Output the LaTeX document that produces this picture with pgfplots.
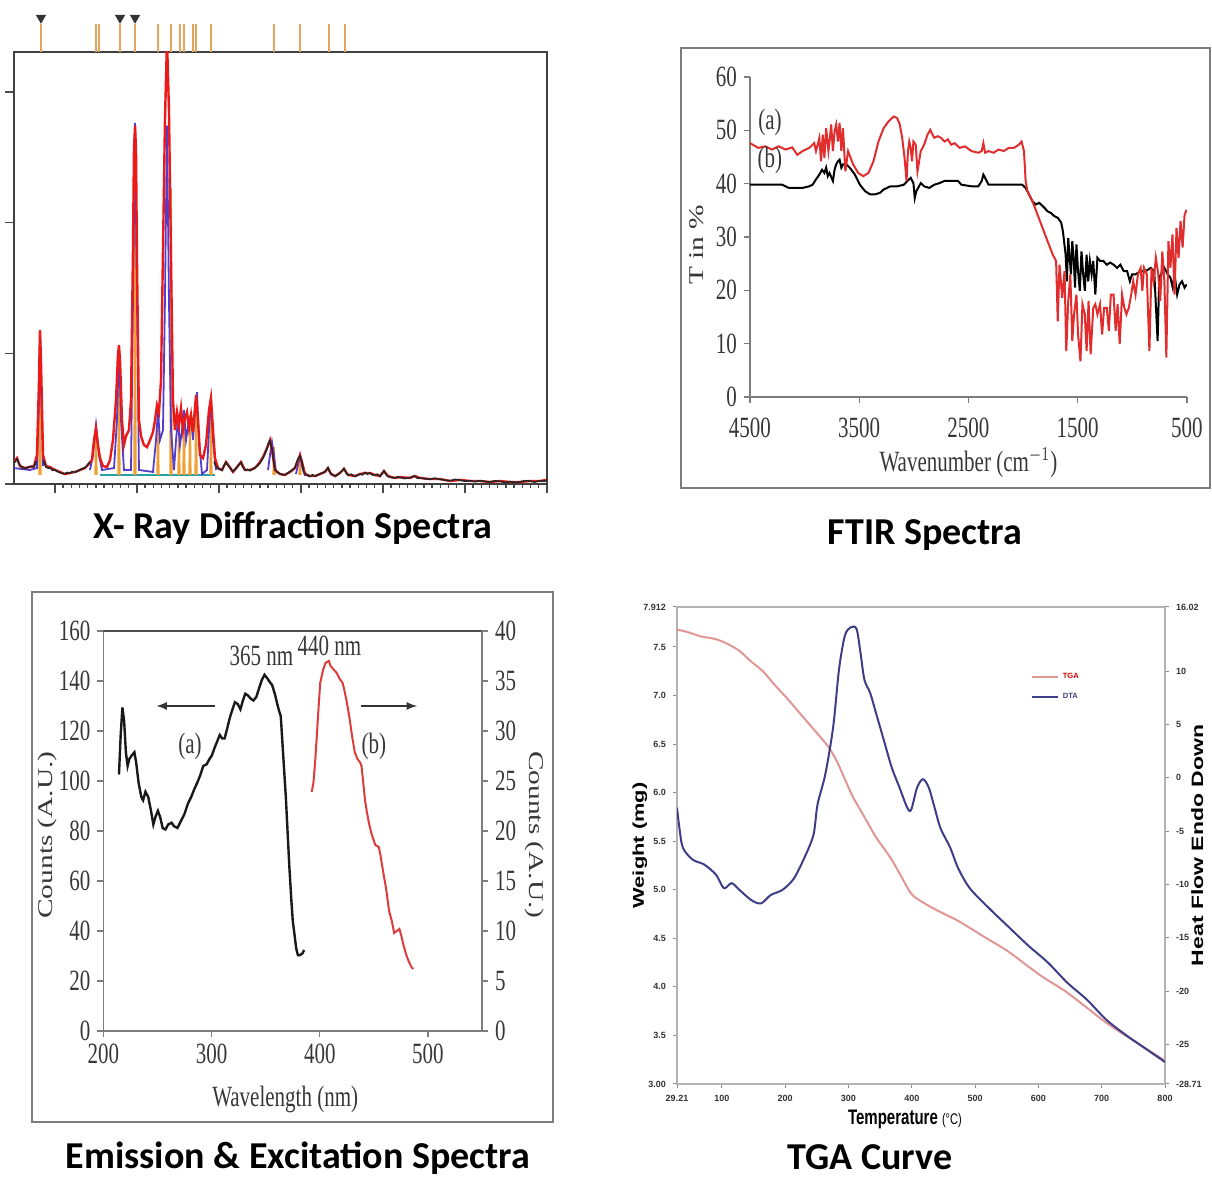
\documentclass[border=0pt]{standalone}
\usepackage{fontspec}
\setmainfont{Liberation Serif}
\newfontfamily\calibri{Carlito}
\newfontfamily\arial{Liberation Sans}
\usepackage{graphicx}
\usepackage{pgfplots}
\pgfplotsset{compat=1.18}

\definecolor{xrdred}{RGB}{235,25,25}
\definecolor{xrdblue}{RGB}{85,60,205}
\definecolor{xrdorange}{RGB}{240,160,50}
\definecolor{xrdstick}{RGB}{228,165,95}
\definecolor{xrdteal}{RGB}{40,160,170}
\definecolor{ftred}{RGB}{225,45,45}
\definecolor{emred}{RGB}{222,60,60}
\definecolor{tgapink}{RGB}{225,150,150}
\definecolor{dtanavy}{RGB}{62,62,135}
\definecolor{framegray}{RGB}{125,125,125}
\definecolor{txtgray}{RGB}{55,55,55}

% the panels are stretched vertically in the reference
\newcommand{\vs}[1]{\scalebox{1}[1.4]{#1}}
\newcommand{\hs}[1]{\scalebox{1.4}[1]{#1}}

\begin{document}
\begin{tikzpicture}
\path[use as bounding box] (0,0) rectangle (606pt,589pt);

% ---------------- XRD ----------------
\begin{axis}[at={(7pt,347pt)}, anchor=south west, scale only axis,
  width=266.5pt, height=216pt,
  xmin=15, xmax=80, ymin=0, ymax=3305,
  xtick={20,30,...,80}, minor x tick num=9, ytick={0,1000,2000,3000},
  xticklabels=\empty, yticklabels=\empty,
  xtick pos=bottom, ytick pos=left, tick align=outside,
  major tick length=4.5pt, minor tick length=2.2pt,
  tick style={black!70, line width=0.7pt},
  axis line style={black!75, line width=1.1pt},
  unbounded coords=jump]
  % baseline of the fit
  \addplot[xrdteal, line width=0.6pt] coordinates {(25.49,69) (39.51,69)};
  % reference sticks
  \addplot[xrdorange, line width=0.9pt] table {
    x y
    18.08 69
    18.17 1176
    18.26 69
    18.3 nan
    24.91 69
    25.00 412
    25.09 69
    25.2 nan
    27.71 69
    27.80 1023
    27.89 69
    28.0 nan
    29.67 69
    29.76 2626
    29.85 69
    29.9 nan
    32.47 69
    32.56 527
    32.65 69
    32.7 nan
    34.06 69
    34.15 2267
    34.24 69
    34.3 nan
    35.03 69
    35.12 504
    35.21 69
    35.3 nan
    35.64 69
    35.73 565
    35.82 69
    35.9 nan
    36.37 69
    36.46 527
    36.55 69
    36.6 nan
    37.11 69
    37.20 603
    37.29 69
    37.4 nan
    38.93 69
    39.02 626
    39.11 69
    39.2 nan
    46.62 69
    46.71 282
    46.80 69
    46.9 nan
    49.79 69
    49.88 198
    49.97 69
  };
  % calculated profile
  \addplot[xrdblue, line width=0.9pt] table {
    x y
    15.00 122
    16.95 107
    17.80 122
    18.05 641
    18.17 1176
    18.29 794
    18.54 137
    18.6 nan
    24.27 107
    24.63 221
    25.00 450
    25.37 221
    25.73 107
    27.20 122
    27.56 489
    27.80 1061
    28.05 489
    28.41 107
    29.27 107
    29.51 1405
    29.76 2763
    30.00 1405
    30.24 107
    31.95 92
    32.32 336
    32.56 565
    32.80 336
    33.17 412
    33.41 1405
    33.66 2741
    33.90 1405
    34.15 412
    34.51 107
    34.76 336
    35.00 489
    35.24 298
    35.49 412
    35.73 565
    35.98 336
    36.34 489
    36.59 504
    36.83 336
    37.07 565
    37.32 702
    37.56 336
    37.93 76
    38.54 107
    38.78 412
    39.02 657
    39.27 336
    39.63 107
    39.7 nan
    45.98 107
    46.22 221
    46.46 321
    46.71 221
    46.95 92
    47.0 nan
    49.39 76
    49.63 145
    49.88 221
    50.12 137
    50.49 61
  };
  % observed pattern
  \addplot[xrdred, line width=1.2pt] table {
    x y
    15.00 168
    15.37 198
    15.73 137
    16.34 122
    16.95 130
    17.44 137
    17.80 221
    18.05 794
    18.17 1176
    18.29 947
    18.54 221
    18.90 137
    19.39 130
    20.00 107
    20.61 92
    21.22 76
    21.83 84
    22.44 92
    23.05 107
    23.66 122
    24.02 145
    24.51 183
    24.76 336
    25.00 427
    25.24 298
    25.49 198
    25.85 137
    26.34 130
    26.71 183
    27.07 336
    27.44 641
    27.68 985
    27.80 1061
    27.93 947
    28.17 489
    28.41 298
    28.66 366
    29.02 412
    29.27 641
    29.51 1786
    29.63 2550
    29.76 2741
    29.88 2550
    30.00 1710
    30.24 489
    30.49 366
    30.85 298
    31.22 282
    31.59 336
    31.95 397
    32.20 489
    32.44 603
    32.68 550
    32.93 794
    33.17 1786
    33.41 2779
    33.66 3400
    33.90 2855
    34.15 1710
    34.39 641
    34.63 412
    34.88 550
    35.12 450
    35.37 580
    35.61 412
    35.85 504
    36.10 550
    36.34 427
    36.59 527
    36.83 397
    37.20 679
    37.44 489
    37.68 221
    38.05 198
    38.41 298
    38.78 565
    39.02 657
    39.27 412
    39.51 198
    39.88 122
    40.37 107
    40.85 168
    41.22 137
    41.71 92
    42.20 130
    42.68 168
    43.17 107
    43.78 107
    44.39 122
    45.00 168
    45.49 221
    45.85 275
    46.22 336
    46.46 260
    46.83 107
    47.44 76
    48.05 69
    48.66 92
    49.27 122
    49.63 183
    49.88 221
    50.12 168
    50.49 76
    51.10 61
    51.71 61
    52.32 76
    52.93 92
    53.29 122
    53.66 76
    54.15 61
    54.76 84
    55.24 115
    55.73 69
    56.59 61
    57.20 76
    57.80 84
    58.41 84
    59.02 69
    59.63 61
    60.12 99
    60.61 61
    61.46 46
    62.07 53
    63.29 46
    63.90 61
    64.51 46
    65.73 38
    66.95 38
    68.17 23
    69.39 31
    70.61 23
    71.83 23
    73.05 15
    74.27 23
    75.49 15
    76.71 15
    77.93 23
    79.15 23
    80.00 31
  };
  % noisy background trace
  \addplot[black!85, line width=0.8pt] table {
    x y
    15.00 160
    15.37 190
    15.73 140
    16.10 125
    16.34 118
    16.70 128
    16.95 135
    17.44 130
    17.70 175
    17.85 nan
    18.60 180
    18.90 130
    19.20 120
    19.39 125
    19.70 105
    20.00 110
    20.30 95
    20.61 88
    20.90 80
    21.22 78
    21.50 88
    21.83 82
    22.10 95
    22.44 90
    22.80 100
    23.05 110
    23.40 118
    23.66 125
    24.02 150
    24.30 170
    24.45 nan
    39.40 170
    39.60 140
    39.88 118
    40.10 112
    40.37 105
    40.60 140
    40.85 165
    41.00 150
    41.22 135
    41.50 110
    41.71 95
    42.00 115
    42.20 128
    42.45 150
    42.68 165
    42.90 130
    43.17 105
    43.50 112
    43.78 102
    44.10 115
    44.39 125
    44.70 140
    45.00 160
    45.30 190
    45.49 215
    45.85 270
    46.10 320
    46.22 330
    46.46 270
    46.70 160
    46.83 110
    47.10 90
    47.44 78
    47.80 70
    48.05 72
    48.40 85
    48.66 95
    49.00 110
    49.27 125
    49.50 170
    49.63 190
    49.88 215
    50.12 165
    50.30 100
    50.49 78
    50.80 65
    51.10 58
    51.40 70
    51.71 60
    52.00 68
    52.32 78
    52.60 85
    52.93 95
    53.29 125
    53.50 95
    53.66 78
    53.90 70
    54.15 58
    54.50 72
    54.76 88
    55.00 100
    55.24 118
    55.50 85
    55.73 68
    56.10 75
    56.59 58
    56.90 66
    57.20 78
    57.50 70
    57.80 88
    58.10 75
    58.41 85
    58.70 70
    59.02 66
    59.30 75
    59.63 58
    59.90 80
    60.12 100
    60.40 70
    60.61 58
    61.00 50
    61.46 46
    61.80 55
    62.07 50
    62.60 42
    63.29 48
    63.60 58
    63.90 60
    64.20 44
    64.51 48
    65.10 40
    65.73 36
    66.30 44
    66.95 36
    67.50 30
    68.17 25
    68.80 35
    69.39 30
    70.00 22
    70.61 25
    71.20 18
    71.83 25
    72.40 20
    73.05 15
    73.60 24
    74.27 20
    74.90 12
    75.49 18
    76.10 12
    76.71 16
    77.30 25
    77.93 22
    78.50 15
    79.15 25
    79.60 20
    80.00 30
  };
\end{axis}

% reflection markers above the XRD pattern
\begin{axis}[at={(7pt,563pt)}, anchor=south west, scale only axis,
  width=266.5pt, height=15pt, xmin=15, xmax=80, ymin=0, ymax=1.07,
  hide axis, clip=false]
  \addplot[ycomb, xrdstick, line width=1pt] coordinates {
    (18.29,1) (25.00,1) (25.37,1) (27.93,1) (29.76,1) (32.56,1)
    (34.15,1) (35.24,1) (35.73,1) (36.83,1) (37.20,1) (39.02,1)
    (46.71,1) (49.88,1) (53.41,1) (55.37,1)};
  \addplot[only marks, mark=triangle*, mark size=2.6pt,
    mark options={rotate=180, black!80}] coordinates {
    (18.29,1.22) (27.93,1.22) (29.76,1.22)};
\end{axis}

% ---------------- FTIR ----------------
\begin{axis}[at={(375pt,390.5pt)}, anchor=south west, scale only axis,
  width=218.5pt, height=160pt,
  xmin=500, xmax=4500, x dir=reverse, ymin=0, ymax=60,
  xtick={500,1500,2500,3500,4500}, ytick={0,10,...,60},
  axis x line*=bottom, axis y line*=left,
  axis line style={framegray, line width=0.8pt, -},
  tick align=outside, major tick length=3pt,
  tick style={framegray, line width=0.6pt},
  xticklabel={\vs{\pgfmathprintnumber[assume math mode=true,1000 sep={}]{\tick}}},
  yticklabel={\vs{\pgfmathprintnumber[assume math mode=true]{\tick}}},
  tick label style={font=\fontsize{10.5}{12}\selectfont, text=txtgray},
  xticklabel style={yshift=-4pt},
  xlabel={\vs{Wavenumber (cm$^{-1}$)}},
  ylabel={\hs{T in \%}},
  xlabel style={at={(axis description cs:0.5,-0.206)}, anchor=center,
    font=\fontsize{10.5}{12}\selectfont, text=txtgray},
  ylabel style={at={(axis description cs:-0.121,0.475)}, anchor=center,
    font=\fontsize{10.5}{12}\selectfont, text=txtgray}]
  \addplot[black, line width=1pt] table {
    x y
    4500 39.8
    4206 39.8
    4175 39.5
    4144 39.2
    4020 39.2
    3958 39.5
    3927 39.8
    3896 40.8
    3865 41.7
    3841 42.6
    3819 42.0
    3803 43.0
    3788 41.4
    3772 42.0
    3741 40.5
    3726 42.6
    3711 43.6
    3695 44.2
    3680 44.5
    3664 43.0
    3649 43.6
    3618 43.6
    3587 43.0
    3540 41.7
    3494 39.8
    3447 38.6
    3401 38.0
    3354 38.0
    3308 38.3
    3277 38.9
    3215 39.5
    3153 39.5
    3091 39.8
    3060 40.5
    3029 41.1
    3004 40.1
    2992 37.3
    2977 38.6
    2961 39.2
    2937 40.1
    2906 39.5
    2859 39.2
    2813 39.8
    2766 40.1
    2720 40.5
    2658 40.5
    2596 40.5
    2565 39.8
    2472 39.5
    2410 39.5
    2379 40.5
    2364 41.7
    2348 41.1
    2317 39.8
    2008 39.8
    1977 39.2
    1946 38.0
    1915 36.7
    1884 36.1
    1853 36.4
    1806 35.5
    1776 34.8
    1745 34.5
    1714 33.9
    1683 33.6
    1652 32.7
    1636 31.1
    1611 26.7
    1599 21.7
    1587 29.8
    1574 26.1
    1562 23.0
    1550 29.2
    1537 26.1
    1525 20.5
    1512 28.6
    1497 23.6
    1481 19.9
    1466 27.3
    1450 23.0
    1435 19.9
    1419 26.7
    1404 21.7
    1389 25.5
    1373 23.0
    1358 25.5
    1339 19.2
    1320 26.1
    1296 25.5
    1265 25.5
    1234 24.8
    1203 25.2
    1172 24.8
    1141 24.2
    1110 24.8
    1079 23.6
    1048 23.6
    1023 21.7
    1002 23.0
    971 23.0
    924 23.6
    878 23.6
    831 24.2
    800 23.6
    769 10.5
    754 22.4
    738 23.0
    707 24.2
    676 23.0
    652 22.4
    630 20.5
    614 23.0
    590 19.2
    568 21.1
    546 21.7
    522 20.5
    503 21.1
  };
  \addplot[ftred, line width=1pt] table {
    x y
    4500 47.6
    4423 46.7
    4361 47.0
    4299 46.4
    4237 47.0
    4175 46.4
    4113 46.8
    4067 45.4
    4020 46.1
    3958 46.7
    3912 47.6
    3896 46.1
    3865 48.6
    3850 44.2
    3834 49.2
    3819 44.8
    3803 50.4
    3782 46.1
    3772 47.9
    3757 51.1
    3741 46.1
    3726 49.8
    3711 51.1
    3695 47.9
    3680 51.4
    3664 46.1
    3649 50.4
    3627 42.3
    3602 46.1
    3556 43.6
    3509 42.0
    3463 41.4
    3416 42.0
    3370 44.2
    3324 47.9
    3277 50.4
    3231 51.7
    3184 52.6
    3153 52.3
    3129 51.1
    3107 48.6
    3085 44.8
    3067 40.5
    3054 46.1
    3042 47.9
    3029 46.7
    3017 44.2
    3004 47.9
    2983 47.3
    2967 42.3
    2952 44.2
    2937 46.1
    2906 47.3
    2875 49.2
    2850 50.1
    2837 49.5
    2813 48.6
    2782 48.9
    2751 48.6
    2720 47.9
    2689 48.3
    2658 47.3
    2627 47.6
    2580 46.7
    2534 47.0
    2472 46.1
    2410 45.8
    2379 46.1
    2364 47.6
    2348 45.8
    2317 46.1
    2271 45.8
    2224 46.4
    2178 46.1
    2132 46.7
    2085 46.7
    2039 47.3
    2014 47.9
    1992 46.1
    1977 40.5
    1961 38.6
    1915 36.7
    1868 34.2
    1822 31.7
    1776 29.2
    1729 26.7
    1698 25.5
    1683 14.2
    1667 24.8
    1642 18.6
    1621 23.6
    1605 8.6
    1587 18.0
    1568 23.0
    1550 10.5
    1534 15.5
    1512 19.2
    1497 11.7
    1475 6.7
    1457 17.4
    1435 15.5
    1419 8.6
    1401 18.0
    1382 8.0
    1358 16.7
    1339 17.4
    1320 15.5
    1296 17.4
    1277 11.7
    1259 16.7
    1234 16.7
    1215 12.4
    1197 19.2
    1172 19.2
    1153 12.4
    1135 17.4
    1116 9.9
    1094 19.2
    1073 16.7
    1054 15.5
    1033 16.7
    1011 19.2
    992 21.7
    971 19.2
    949 23.0
    924 24.2
    909 19.9
    893 24.2
    868 23.0
    844 8.6
    825 24.2
    806 21.7
    785 26.1
    763 23.0
    745 18.0
    726 27.3
    707 21.7
    689 7.4
    670 29.2
    652 24.2
    633 30.5
    614 19.2
    596 31.7
    577 26.1
    559 33.0
    540 28.0
    522 34.2
    503 35.1
  };
  \node[text=txtgray, font=\fontsize{10.5}{12}\selectfont] at (axis cs:4317,51.4) {\vs{(a)}};
  \node[text=txtgray, font=\fontsize{10.5}{12}\selectfont] at (axis cs:4317,44.4) {\vs{(b)}};
\end{axis}

% ---------------- Emission & excitation ----------------
\begin{axis}[at={(51.75pt,73.5pt)}, anchor=south west, scale only axis,
  width=189.25pt, height=200pt,
  xmin=200, xmax=550, ymin=0, ymax=160,
  xtick={200,300,400,500}, ytick={0,20,...,160},
  xtick pos=bottom, ytick pos=left, tick align=outside,
  major tick length=3pt, tick style={framegray, line width=0.6pt},
  axis line style={framegray, line width=0.8pt},
  xticklabel={\vs{\pgfmathprintnumber[assume math mode=true]{\tick}}},
  yticklabel={\vs{\pgfmathprintnumber[assume math mode=true]{\tick}}},
  tick label style={font=\fontsize{10.5}{12}\selectfont, text=txtgray},
  xlabel={\vs{Wavelength (nm)}}, ylabel={\hs{Counts (A.U.)}},
  xlabel style={at={(axis description cs:0.48,-0.17)}, anchor=center,
    font=\fontsize{10.5}{12}\selectfont, text=txtgray},
  ylabel style={at={(axis description cs:-0.149,0.49)}, anchor=center,
    font=\fontsize{10.5}{12}\selectfont, text=txtgray}]
  \addplot[black!90, line width=1.2pt] table {
    x y
    214.3 102.6
    215.9 118.4
    217.5 129.4
    219.1 123.9
    220.7 111.5
    222.3 106.0
    223.9 108.8
    226.1 110.2
    228.6 111.5
    230.2 107.4
    232.5 99.1
    235.0 93.6
    236.6 92.3
    238.8 95.7
    241.4 93.6
    243.9 88.1
    246.1 82.6
    248.4 86.1
    250.3 88.1
    252.5 85.4
    254.7 81.2
    257.3 80.6
    259.8 82.6
    263.0 83.3
    265.2 81.9
    268.4 81.2
    271.6 84.0
    274.8 86.7
    278.0 90.9
    281.1 93.6
    284.3 97.1
    286.5 99.1
    289.1 101.9
    292.3 106.0
    295.4 106.7
    298.0 108.8
    300.2 110.2
    302.4 112.9
    305.0 115.7
    307.5 118.4
    309.8 117.0
    312.0 117.0
    314.5 121.2
    316.8 125.3
    319.3 128.7
    321.5 131.5
    324.1 130.8
    326.6 128.7
    328.9 132.2
    331.1 134.9
    333.6 134.2
    336.2 132.9
    338.7 132.2
    341.3 133.6
    343.8 137.0
    346.4 140.4
    348.9 142.5
    351.4 141.1
    353.4 139.8
    355.9 138.4
    358.4 134.9
    360.7 130.8
    362.3 128.1
    363.9 126.0
    365.4 115.7
    367.0 104.6
    368.6 93.6
    370.2 79.9
    371.8 66.1
    373.7 52.3
    375.0 44.1
    376.6 38.6
    378.2 33.0
    379.8 30.3
    381.4 30.3
    383.9 31.0
    385.5 32.4
  };
  \node[text=txtgray, font=\fontsize{10.5}{12}\selectfont] at (axis cs:346,150) {\vs{365 nm}};
  \node[text=txtgray, font=\fontsize{10.5}{12}\selectfont] at (axis cs:409,154) {\vs{440 nm}};
  \node[text=txtgray, font=\fontsize{10.5}{12}\selectfont] at (axis cs:280,114) {\vs{(a)}};
  \node[text=txtgray, font=\fontsize{10.5}{12}\selectfont] at (axis cs:450,114) {\vs{(b)}};
  \draw[-latex, line width=0.8pt, black!80] (axis cs:303,130) -- (axis cs:249,130);
  \draw[-latex, line width=0.8pt, black!80] (axis cs:438,130) -- (axis cs:490,130);
  \draw[black!70, line width=1pt] (rel axis cs:0,1) -- (rel axis cs:1,1);
\end{axis}
\begin{axis}[at={(51.75pt,73.5pt)}, anchor=south west, scale only axis,
  width=189.25pt, height=200pt,
  xmin=200, xmax=550, ymin=0, ymax=40,
  axis x line=none, axis y line*=right, ytick={0,5,...,40},
  tick align=outside, major tick length=3pt,
  tick style={framegray, line width=0.6pt},
  axis line style={framegray, line width=0.8pt, -},
  yticklabel={\vs{\pgfmathprintnumber[assume math mode=true]{\tick}}},
  tick label style={font=\fontsize{10.5}{12}\selectfont, text=txtgray},
  ylabel={\hs{Counts (A.U.)}},
  ylabel style={at={(axis description cs:1.14,0.49)}, anchor=center, rotate=180,
    font=\fontsize{10.5}{12}\selectfont, text=txtgray}]
  \addplot[emred, line width=1pt] table {
    x y
    392.5 23.9
    394.1 24.8
    395.7 26.9
    397.3 29.6
    398.9 32.4
    400.4 34.8
    403.0 36.1
    405.2 36.8
    408.4 37.0
    410.0 36.5
    413.2 36.1
    415.7 35.8
    417.9 35.3
    421.1 34.8
    422.7 34.1
    425.3 32.7
    427.5 31.3
    429.7 29.6
    432.3 27.9
    434.8 27.2
    437.0 26.9
    438.6 26.5
    440.2 24.8
    441.8 23.1
    443.4 22.0
    445.6 20.7
    448.2 19.6
    451.4 18.6
    454.5 18.4
    456.1 17.6
    457.7 16.5
    459.3 15.5
    461.5 14.1
    464.1 12.0
    466.6 11.0
    468.8 9.8
    471.1 10.0
    473.6 10.2
    475.2 9.6
    477.4 8.6
    480.0 7.6
    482.5 6.9
    484.8 6.4
    486.4 6.2
  };
\end{axis}

% ---------------- TGA / DTA ----------------
\begin{axis}[at={(338.5pt,47pt)}, anchor=south west, scale only axis,
  width=244pt, height=238.5pt,
  xmin=29.21, xmax=800, ymin=3, ymax=7.912,
  xtick={29.21,100,200,300,400,500,600,700,800},
  xticklabels={29.21,100,200,300,400,500,600,700,800},
  ytick={3,3.5,4,4.5,5,5.5,6,6.5,7,7.5,7.912},
  yticklabels={3.00,3.5,4.0,4.5,5.0,5.5,6.0,6.5,7.0,7.5,7.912},
  xtick pos=bottom, ytick pos=left, tick align=outside,
  major tick length=2pt, tick style={black!45, line width=0.5pt},
  axis line style={black!30, line width=0.8pt},
  tick label style={font=\arial\bfseries\fontsize{4.5}{5}\selectfont, text=black!80},
  xlabel={\vs{\textbf{Temperature} {\fontsize{5.5}{6}\selectfont(°C)}}},
  ylabel={\hs{\textbf{Weight (mg)}}},
  xlabel style={at={(axis description cs:0.467,-0.075)}, anchor=center,
    font=\arial\fontsize{7.5}{9}\selectfont},
  ylabel style={at={(axis description cs:-0.076,0.50)}, anchor=center,
    font=\arial\fontsize{7.8}{9}\selectfont},
  legend style={at={(axis description cs:0.72,0.875)}, anchor=north west,
    draw=none, fill=none, inner sep=1pt, row sep=2pt,
    font=\arial\bfseries\fontsize{3.8}{4.5}\selectfont},
  legend cell align=left,
  legend image code/.code={\draw[#1] (0pt,0pt) -- (13pt,0pt);}]
  \addplot[tgapink, line width=1pt, smooth] table {
    x y
    29.2 7.68
    47.7 7.65
    66.2 7.61
    90.9 7.58
    109.4 7.53
    127.9 7.46
    146.4 7.35
    164.9 7.25
    183.4 7.11
    201.9 6.98
    220.3 6.84
    238.8 6.70
    257.3 6.56
    269.7 6.46
    282.0 6.32
    294.3 6.14
    306.7 5.96
    319.0 5.82
    331.3 5.68
    343.7 5.54
    365.3 5.34
    380.7 5.17
    399.2 4.96
    417.7 4.87
    442.3 4.78
    473.2 4.68
    513.2 4.52
    553.3 4.36
    602.7 4.12
    645.8 3.94
    707.5 3.63
    756.8 3.42
    800.0 3.24
  };
  \addlegendentry{\textcolor{red!80!black}{TGA}}
  \addlegendimage{dtanavy, line width=1pt}
  \addlegendentry{\textcolor{dtanavy}{DTA}}
\end{axis}
\begin{axis}[at={(338.5pt,47pt)}, anchor=south west, scale only axis,
  width=244pt, height=238.5pt,
  xmin=29.21, xmax=800, ymin=-28.71, ymax=16.02,
  axis x line=none, axis y line*=right,
  ytick={-28.71,-25,-20,-15,-10,-5,0,5,10,16.02},
  yticklabels={-28.71,-25,-20,-15,-10,-5,0,5,10,16.02},
  tick align=outside, major tick length=2pt,
  tick style={black!45, line width=0.5pt},
  axis line style={black!30, line width=0.8pt, -},
  tick label style={font=\arial\bfseries\fontsize{4.5}{5}\selectfont, text=black!80},
  ylabel={\hs{\textbf{Heat Flow Endo Down}}},
  ylabel style={at={(axis description cs:1.066,0.50)}, anchor=center, rotate=0,
    font=\arial\fontsize{8.2}{9}\selectfont}]
  \addplot[dtanavy, line width=1pt, smooth] table {
    x y
    29.2 -2.8
    33.0 -4.7
    38.5 -6.56
    53.9 -7.67
    72.4 -8.14
    90.9 -9.09
    103.2 -10.35
    115.5 -9.88
    127.9 -10.51
    146.4 -11.46
    161.8 -11.78
    177.2 -10.99
    195.7 -10.51
    214.2 -9.41
    232.7 -7.19
    245.0 -5.29
    251.2 -2.50
    263.5 0.35
    275.9 4.78
    285.1 10.16
    294.3 13.32
    303.6 14.11
    312.8 13.96
    319.0 11.74
    325.2 9.21
    334.4 7.94
    343.7 6.04
    356.0 3.51
    368.3 0.98
    380.7 -0.92
    393.0 -2.82
    399.2 -2.97
    408.4 -0.92
    417.7 -0.13
    426.9 -0.92
    436.2 -2.82
    445.4 -4.72
    460.8 -6.56
    473.2 -8.46
    491.6 -10.35
    522.5 -12.25
    553.3 -14.00
    584.2 -15.74
    615.0 -17.32
    645.8 -19.22
    676.6 -20.80
    707.5 -22.70
    738.3 -24.12
    769.1 -25.39
    800.0 -26.65
  };
\end{axis}

% ---------------- frames and captions ----------------
\begin{scope}[x=0.5pt, y=-0.5pt, shift={(0pt,589pt)}]
  \draw[framegray, line width=0.9pt] (681,48) rectangle (1210,488);
  \draw[framegray, line width=0.9pt] (32,592) rectangle (553,1122);
  \node[font=\calibri\bfseries\fontsize{19}{22}\selectfont] at (293,528) {X- Ray Diffraction Spectra};
  \node[font=\calibri\bfseries\fontsize{19}{22}\selectfont] at (925,535) {FTIR Spectra};
  \node[font=\calibri\bfseries\fontsize{19}{22}\selectfont] at (298,1158) {Emission \& Excitation Spectra};
  \node[font=\calibri\bfseries\fontsize{19}{22}\selectfont] at (870,1157) {TGA Curve};
\end{scope}
\end{tikzpicture}
\end{document}
